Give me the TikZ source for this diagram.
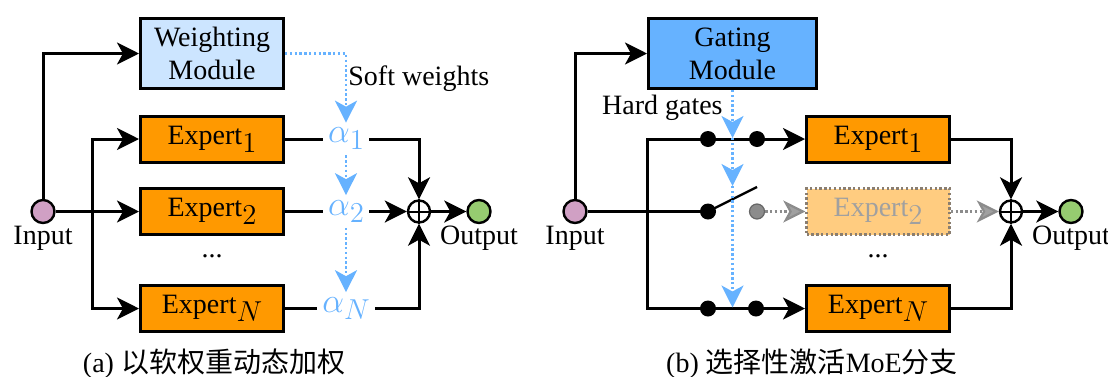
\documentclass[tikz,border=0pt]{standalone}
\usepackage{fontspec}
\setmainfont{Liberation Serif}
\newfontfamily\cjk{Noto Sans CJK SC}
\usetikzlibrary{arrows.meta,calc}
\definecolor{expertor}{HTML}{FF9900}
\definecolor{wblue}{HTML}{CCE5FF}
\definecolor{gblue}{HTML}{66B2FF}
\definecolor{softblue}{HTML}{66B2FF}
\definecolor{inpink}{HTML}{D0A0C4}
\definecolor{outgreen}{HTML}{96CC70}
\definecolor{paleor}{HTML}{FFCC80}
\definecolor{dimline}{HTML}{8C8C8C}
\definecolor{dimtext}{HTML}{A0A0A0}
\definecolor{dimborder}{HTML}{8A7E70}
\newcommand{\Esub}[1]{\raisebox{-4pt}{\fontsize{15}{15}\selectfont$#1$}}
\newcommand{\Asub}[1]{{\fontsize{18}{20}\selectfont$\alpha$}\raisebox{-3.5pt}{\fontsize{14}{14}\selectfont$#1$}}
\begin{document}
\begin{tikzpicture}[x=0.5pt,y=-0.5pt,
  font=\fontsize{14}{16.5}\selectfont,
  box/.style={draw=black, line width=1.5pt, minimum width=71.5pt, minimum height=23pt, inner sep=0pt},
  modbox/.style={box, minimum height=35pt, align=center},
  gbox/.style={draw=dimborder, line width=1.2pt, dash pattern=on 1.2pt off 1.2pt, fill=paleor,
    minimum width=71.5pt, minimum height=23pt, inner sep=0pt, text=dimtext},
  inc/.style={circle, draw=black, line width=1.2pt, minimum size=11.5pt, inner sep=0pt},
  sumc/.style={circle, draw=black, line width=1.2pt, minimum size=11pt, inner sep=0pt},
  dotc/.style={circle, fill=black, minimum size=8pt, inner sep=0pt},
  gdotc/.style={circle, fill=dimline, draw=gray!80!black, line width=0.6pt, minimum size=7.5pt, inner sep=0pt},
  alab/.style={text=softblue, inner sep=2.5pt},
  lbl/.style={inner sep=0pt},
  ln/.style={line width=1.5pt},
  arr/.style={line width=1.5pt, -{Stealth[length=11pt,width=11pt,inset=3pt]}},
  barr/.style={softblue, line width=1.1pt, dash pattern=on 1.2pt off 1.2pt,
    -{Stealth[length=11pt,width=11pt,inset=3pt]}},
  garr/.style={dimline, line width=1.1pt, dash pattern=on 1.2pt off 1.2pt,
    -{Stealth[length=11pt,width=11pt,inset=3pt,color=dimline,fill=dimtext]}},
  lever/.style={line width=1.2pt},
  plus/.style={line width=1pt}
]
\useasboundingbox (0,0) rectangle (1108,376);

% ---------------- (a) ----------------
\node[inc, fill=inpink] (inL) at (43,211.5) {};
\node[lbl] (inLlab) at (43,238) {Input};
\node[modbox, fill=wblue] (W) at (212,53.5) {Weighting\\Module};
\node[box, fill=expertor] (L1) at (212,139) {Expert\Esub{1}};
\node[box, fill=expertor] (L2) at (212,211.5) {Expert\Esub{2}};
\node[box, fill=expertor] (LN) at (212,308.5) {Expert\Esub{N}};
\node[lbl] (Ldots) at (212,256) {...};
\node[alab] (a1) at (346,139) {\Asub{1}};
\node[alab] (a2) at (346,211.5) {\Asub{2}};
\node[alab] (aN) at (346,308.5) {\Asub{N}};
\node[sumc] (SL) at (419,211.5) {};
\node[inc, fill=outgreen] (oL) at (479,211.5) {};
\node[lbl] (oLlab) at (479,238) {Output};
\node[lbl, anchor=west] (swl) at (348,79) {Soft weights};
\coordinate (jL) at (92,211.5);

\draw[plus] (SL.north) -- (SL.south) (SL.west) -- (SL.east);
\draw[arr] (inL.north) |- (W.west);
\draw[arr] (inL.east) -- (L2.west);
\draw[arr] (jL) |- (L1.west);
\draw[arr] (jL) |- (LN.west);
\draw[ln] (L1.east) -- (a1.west);
\draw[ln] (L2.east) -- (a2.west);
\draw[ln] (LN.east) -- (aN.west);
\draw[arr] (a1.east) -| (SL.north);
\draw[arr] (a2.east) -- (SL.west);
\draw[arr] (aN.east) -| (SL.south);
\draw[arr] (SL.east) -- (oL.west);
\draw[barr] (W.east) -| (a1.north);
\draw[barr] (a1.south) -- (a2.north);
\draw[barr] (a2.south) -- (aN.north);

\node (capA) at (214,364) {(a) {\cjk 以软权重动态加权}};

% ---------------- (b) ----------------
\node[inc, fill=inpink] (inR) at (575,211.5) {};
\node[lbl] (inRlab) at (575,238) {Input};
\node[modbox, fill=gblue, minimum width=84pt] (G) at (732.5,53.5) {Gating\\Module};
\node[box, fill=expertor] (R1) at (878,139) {Expert\Esub{1}};
\node[gbox] (R2) at (878,211.5) {Expert\Esub{2}};
\node[box, fill=expertor] (RN) at (878,308.5) {Expert\Esub{N}};
\node[lbl] (Rdots) at (878,256) {...};
\node[sumc] (SR) at (1011,211.5) {};
\node[inc, fill=outgreen] (oR) at (1071,211.5) {};
\node[lbl] (oRlab) at (1071,238) {Output};
\node[lbl, anchor=east] (hg) at (723,107.5) {Hard gates};
\coordinate (jR) at (647,211.5);
\coordinate (c11) at (708,139);
\coordinate (c12) at (757,139);
\coordinate (c21) at (708,211.5);
\coordinate (c22) at (757,211.5);
\coordinate (cN1) at (708,308.5);
\coordinate (cN2) at (756,308.5);
\coordinate (lev) at (757,187);
\coordinate (g1) at (732.5,138);
\coordinate (g2) at (732.5,186);
\coordinate (gN) at (732.5,307.5);

\draw[plus] (SR.north) -- (SR.south) (SR.west) -- (SR.east);
\draw[arr] (inR.north) |- (G.west);
\draw[ln] (inR.east) -- (c21);
\draw[arr] (jR) |- (c11) -- (R1.west);
\draw[arr] (jR) |- (cN1) -- (RN.west);
\draw[lever] (c21) -- (lev);
\node[gdotc] (d22) at (c22) {};
\draw[garr] (d22.east) -- (R2.west);
\draw[arr] (R1.east) -| (SR.north);
\draw[garr] (R2.east) -- (SR.west);
\draw[arr] (RN.east) -| (SR.south);
\draw[arr] (SR.east) -- (oR.west);
\draw[barr] (G.south) -- (g1);
\draw[barr] (g1) -- (g2);
\draw[barr] (g2) -- (gN);
\node[dotc] (d11) at (c11) {};
\node[dotc] (d12) at (c12) {};
\node[dotc] (d21) at (c21) {};
\node[dotc] (dN1) at (cN1) {};
\node[dotc] (dN2) at (cN2) {};

\node (capB) at (812,364) {(b) {\cjk 选择性激活}MoE{\cjk 分支}};
\end{tikzpicture}
\end{document}
